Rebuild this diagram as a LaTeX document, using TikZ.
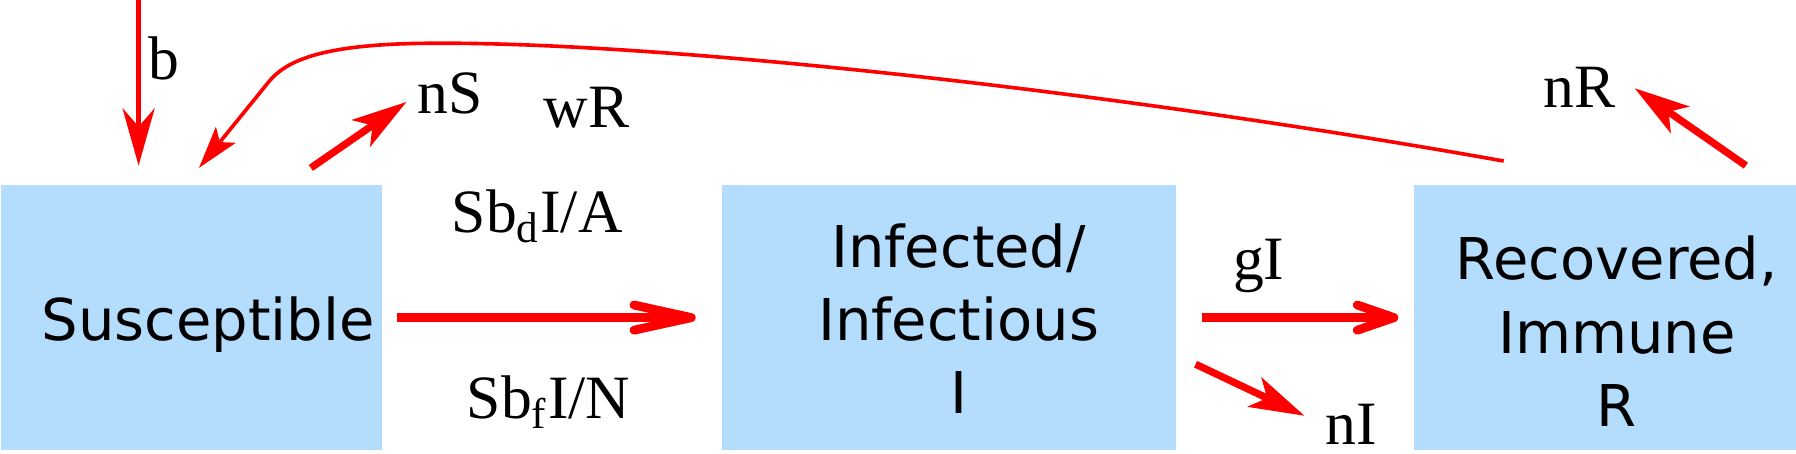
\documentclass[tikz,border=0pt]{standalone}
\usepackage{fontspec}
\setmainfont{Liberation Serif}
\newfontfamily\boxfont{DejaVu Sans}
\usepackage{xcolor}
\usetikzlibrary{arrows.meta,positioning,calc}
\definecolor{boxblue}{RGB}{180,220,252}

\begin{document}
\begin{tikzpicture}[
  box/.style={fill=boxblue, inner sep=0pt, minimum height=2.32cm},
  boxtext/.style={font=\boxfont\fontsize{14.3}{18.2}\selectfont, align=center, inner sep=0pt},
  rate/.style={font=\fontsize{15.3}{18}\selectfont, inner sep=0pt, anchor=base},
  flow/.style={red, line width=2.2pt, -{Straight Barb[length=5mm, width=2.2mm, round]}},
  recover/.style={red, line width=2.2pt, -{Straight Barb[length=3.2mm, width=2.2mm, round]}},
  loss/.style={red, line width=1.8pt, -{Stealth[length=4.8mm, width=2.8mm, inset=1.2mm]}},
  birth/.style={red, line width=1.2pt, -{Stealth[length=5mm, width=2.8mm, inset=1.6mm]}},
  waning/.style={red, line width=0.9pt, -{Stealth[length=3.7mm, width=2.2mm, inset=0.8mm]}}
]
  \useasboundingbox (0,0) rectangle (15.68,3.96);

  % compartments
  \node[box, minimum width=3.33cm, anchor=south west] (S) at (0,0.02) {};
  \node[box, minimum width=3.965cm, right=2.95cm of S] (I) {};
  \node[box, minimum width=3.37cm, right=2.065cm of I] (R) {};

  \node[boxtext, anchor=base] (St) at ($(S.south)+(0.145,0.97)$) {Susceptible};
  \node[boxtext] (It) at ($(I)+(0.085,-0.01)$) {Infected/\\Infectious\\I};
  \node[boxtext] (Rt) at ($(R)+(0.085,-0.12)$) {Recovered,\\Immune\\R};

  % rates
  \node[rate] (b) at (1.43,3.27) {b};
  \node[rate] (nS) at (3.93,2.97) {nS};
  \node[rate] (wR) at (5.12,2.85) {wR};
  \node[rate] (nR) at (13.79,3.02) {nR};
  \node[rate] (beta) at (4.69,1.93) {Sb\textsubscript{d}I/A};
  \node[rate] (betaf) at (4.79,0.31) {Sb\textsubscript{f}I/N};
  \node[rate] (gI) at (10.99,1.52) {gI};
  \node[rate] (nI) at (11.80,0.08) {nI};

  \coordinate (bin) at (1.21,3.96);
  \coordinate (wRfrom) at ($(R.north west)+(0.79,0.20)$);
  \coordinate (wRto) at ($(S.north)+(0.065,0.14)$);

  % flows
  \draw[birth, shorten >=1.6mm] (bin) -- (bin |- S.north);
  \draw[flow, shorten <=1.2mm, shorten >=2.2mm] (S) -- (I);
  \draw[recover, shorten <=2.2mm, shorten >=1.3mm] (I) -- (R);
  \draw[loss] ($(S.north east)+(-0.63,0.14)$) -- ([shift={(-0.09,0.10)}]nS.base west);
  \draw[loss] ($(R.north east)+(-0.48,0.16)$) -- ([shift={(0.16,0.17)}]nR.base east);
  \draw[loss] ($(I.south east)+(0.165,0.76)$) -- ([shift={(-0.18,0.25)}]nI.base west);
  \draw[waning] (wRfrom) .. controls (9.5,3.2) and (5.5,3.62) .. (3.6,3.58)
    .. controls (2.8,3.56) and (2.5,3.43) .. (2.35,3.25) -- (wRto);
\end{tikzpicture}
\end{document}
